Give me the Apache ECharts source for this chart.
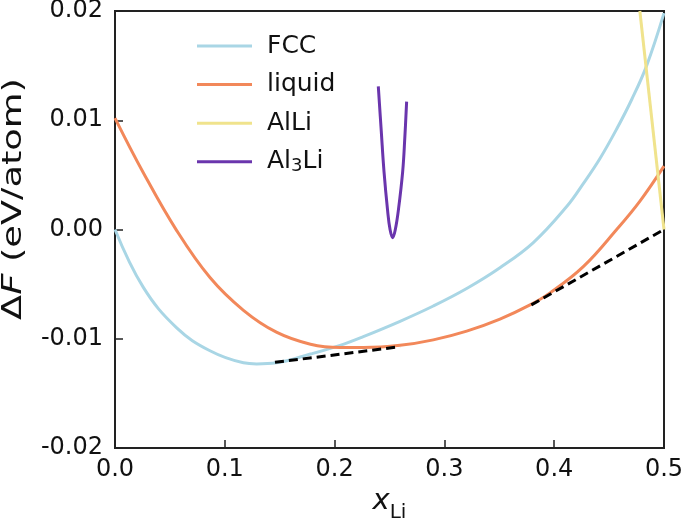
<!DOCTYPE html>
<html>
<head>
<meta charset="utf-8">
<script src="https://cdn.jsdelivr.net/npm/echarts@6/dist/echarts.min.js"></script>
<style>
html,body{margin:0;padding:0;background:#fff;}
#c{width:685px;height:519px;}
</style>
</head>
<body>
<div id="c"></div>
<script>
// ---- data ----
const fccX = [0, 0.0258, 0.0562, 0.0865, 0.117, 0.129, 0.147, 0.178, 0.205, 0.2262, 0.2596, 0.2899, 0.3203, 0.3506, 0.381, 0.4114, 0.4265, 0.4417, 0.4569, 0.4706, 0.4842, 0.5];
const fccY = [0.0, -0.0053, -0.0090, -0.0111, -0.0122, -0.0123, -0.0122, -0.0114, -0.0106, -0.0098, -0.0084, -0.0070, -0.0054, -0.0035, -0.0012, 0.0021, 0.0042, 0.0065, 0.0092, 0.0119, 0.0150, 0.0198];

const liqX = [0, 0.0258, 0.0562, 0.0865, 0.117, 0.147, 0.178, 0.205, 0.2262, 0.2596, 0.2899, 0.3203, 0.3506, 0.378, 0.3962, 0.4265, 0.4569, 0.4781, 0.5];
const liqY = [0.0102, 0.0052, -0.0001, -0.0044, -0.0074, -0.0094, -0.0105, -0.0108, -0.0108, -0.0106, -0.0101, -0.0093, -0.0082, -0.0069, -0.0058, -0.0034, 0.0000, 0.0026, 0.0058];

const alliX = [0.478, 0.5];
const alliY = [0.0200, 0.0];

const al3liX = [0.2398, 0.2425, 0.2450, 0.2483, 0.2505, 0.2529, 0.2553, 0.2580, 0.2620, 0.2640, 0.2656];
const al3liY = [0.0131, 0.0090, 0.0053, 0.0017, 0.0000, -0.00075, 0.0000, 0.0017, 0.0053, 0.0085, 0.0117];

const tan1X = [0.1457, 0.2596];
const tan1Y = [-0.01216, -0.01073];
const tan2X = [0.3792, 0.5];
const tan2Y = [-0.0069, 0.0];

const xTicks = [0, 0.1, 0.2, 0.3, 0.4, 0.5];
const yTicks = [-0.02, -0.01, 0.0, 0.01, 0.02];

const seriesNames = ['FCC', 'liquid', 'AlLi', 'Al3Li'];
const colors = ['#a9d6e5', '#f2885a', '#f0e38c', '#6a35ad'];

// ---- build ----
const zip = (xs, ys) => xs.map((x, i) => [x, ys[i]]);
const FONT = 'DejaVu Sans';
const AX = '#222';
const TXT = '#111';

const chart = echarts.init(document.getElementById('c'), null, {renderer: 'canvas'});

function curve(name, xs, ys, color, smooth) {
  return {
    name: name, type: 'line', data: zip(xs, ys), showSymbol: false, symbol: 'none',
    smooth: smooth, clip: true,
    lineStyle: {color: color, width: 3}, itemStyle: {color: color}, z: 3
  };
}
function dashed(xs, ys) {
  return {
    type: 'line', data: zip(xs, ys), showSymbol: false, symbol: 'none', clip: true,
    lineStyle: {color: '#000', width: 3, type: [9, 5]}, z: 4, silent: true
  };
}

chart.setOption({
  animation: false,
  backgroundColor: '#fff',
  grid: {left: 115, right: 21, top: 11, bottom: 71, outerBoundsMode: 'none', containLabel: false,
    show: true, borderColor: AX, borderWidth: 2, backgroundColor: 'transparent'},
  legend: {
    data: seriesNames, orient: 'vertical', left: 192, top: 27,
    icon: 'rect', itemWidth: 55, itemHeight: 3, itemGap: 10.6,
    formatter: n => n === 'Al3Li' ? 'Al{s|3}Li' : n,
    textStyle: {fontFamily: FONT, fontSize: 25, color: TXT, lineHeight: 28, padding: [0, 0, 0, 10],
      rich: {s: {fontFamily: FONT, fontSize: 18, color: TXT, lineHeight: 28, padding: [10, 0, 0, 0]}}}
  },
  xAxis: {
    type: 'value', min: xTicks[0], max: xTicks[xTicks.length - 1], interval: 0.1,
    name: '{i|x}{s|Li}', nameLocation: 'middle', nameGap: 39,
    nameTextStyle: {fontFamily: FONT, rich: {
      i: {fontFamily: FONT, fontSize: 29, fontStyle: 'italic', color: TXT, verticalAlign: 'bottom'},
      s: {fontFamily: FONT, fontSize: 20, color: TXT, verticalAlign: 'bottom', padding: [0, 0, -7, 0]}
    }},
    axisLine: {show: true, onZero: false, lineStyle: {color: AX, width: 2}},
    axisTick: {show: true, inside: true, length: 8, lineStyle: {color: AX, width: 1.5}},
    axisLabel: {fontFamily: FONT, fontSize: 24, color: TXT, margin: 10, formatter: v => v.toFixed(1)},
    splitLine: {show: false}
  },
  yAxis: {
    type: 'value', min: yTicks[0], max: yTicks[yTicks.length - 1], interval: 0.01,
    axisLine: {show: true, onZero: false, lineStyle: {color: AX, width: 2}},
    axisTick: {show: true, inside: true, length: 8, lineStyle: {color: AX, width: 1.5}},
    axisLabel: {fontFamily: FONT, fontSize: 24, color: TXT, margin: 12, formatter: v => (Math.abs(v) < 1e-12 ? 0 : v).toFixed(2)},
    splitLine: {show: false}
  },
  graphic: [{
    type: 'text', x: 14, y: 199, rotation: Math.PI / 2, scaleX: 1.36, scaleY: 1,
    style: {
      text: '{a|Δ}{i|F}{a| (eV/atom)}', align: 'center', verticalAlign: 'middle', fill: TXT,
      font: '27px "DejaVu Sans"',
      rich: {
        a: {fontFamily: FONT, fontSize: 27, fill: TXT},
        i: {fontFamily: FONT, fontSize: 27, fontStyle: 'italic', fill: TXT}
      }
    }
  }],
  series: [
    curve(seriesNames[0], fccX, fccY, colors[0], 0.4),
    curve(seriesNames[1], liqX, liqY, colors[1], 0.4),
    curve(seriesNames[2], alliX, alliY, colors[2], false),
    curve(seriesNames[3], al3liX, al3liY, colors[3], 0.4),
    dashed(tan1X, tan1Y),
    dashed(tan2X, tan2Y)
  ]
});
</script>
</body>
</html>
